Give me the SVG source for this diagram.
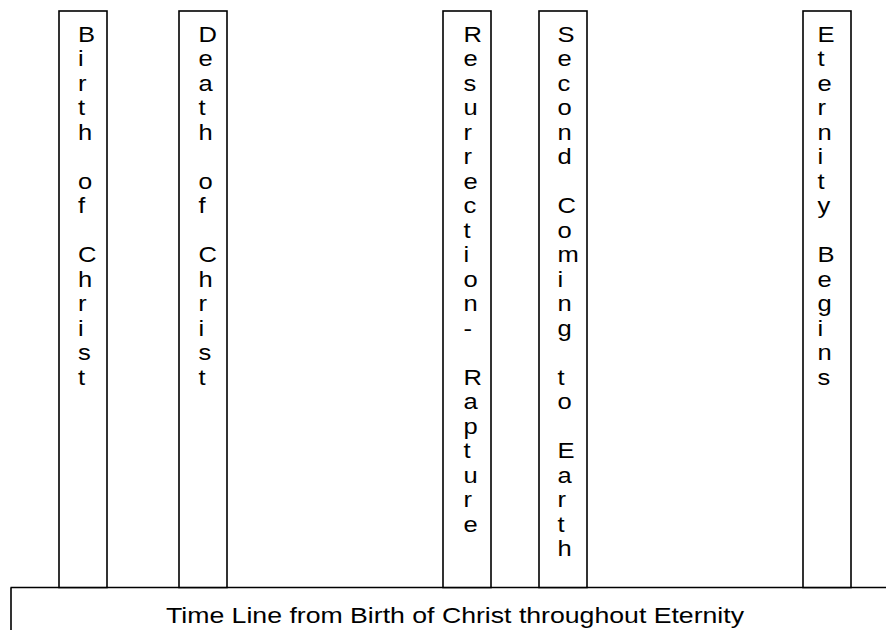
<svg xmlns="http://www.w3.org/2000/svg" width="886" height="630" viewBox="0 0 886 630">
<style>
.box{fill:#fff;stroke:#000;stroke-width:1.6}
.ln{stroke:#000;stroke-width:1.6;fill:none}
.v{font-family:"Liberation Sans",Arial,sans-serif;font-size:21.3px;fill:#000}
.t{font-family:"Liberation Sans",Arial,sans-serif;font-size:22.4px;fill:#000}
</style>
<rect width="886" height="630" fill="#fff"/>
<g id="connectors">
<path class="ln" d="M10.5 587.5H886M11 587.5V630"/>
</g>
<g id="birth">
<rect class="box" x="59" y="11" width="48" height="576.5"/>
<text class="v" transform="translate(78,42) scale(1.2,1)"><tspan x="0" y="0">B</tspan><tspan x="0" dy="24.5">i</tspan><tspan x="0" dy="24.5">r</tspan><tspan x="0" dy="24.5">t</tspan><tspan x="0" dy="24.5">h</tspan><tspan x="0" dy="49">o</tspan><tspan x="0" dy="24.5">f</tspan><tspan x="0" dy="49">C</tspan><tspan x="0" dy="24.5">h</tspan><tspan x="0" dy="24.5">r</tspan><tspan x="0" dy="24.5">i</tspan><tspan x="0" dy="24.5">s</tspan><tspan x="0" dy="24.5">t</tspan></text>
</g>
<g id="death">
<rect class="box" x="179" y="11" width="48" height="576.5"/>
<text class="v" transform="translate(198.5,42) scale(1.2,1)"><tspan x="0" y="0">D</tspan><tspan x="0" dy="24.5">e</tspan><tspan x="0" dy="24.5">a</tspan><tspan x="0" dy="24.5">t</tspan><tspan x="0" dy="24.5">h</tspan><tspan x="0" dy="49">o</tspan><tspan x="0" dy="24.5">f</tspan><tspan x="0" dy="49">C</tspan><tspan x="0" dy="24.5">h</tspan><tspan x="0" dy="24.5">r</tspan><tspan x="0" dy="24.5">i</tspan><tspan x="0" dy="24.5">s</tspan><tspan x="0" dy="24.5">t</tspan></text>
</g>
<g id="resurrection">
<rect class="box" x="443" y="11" width="48" height="576.5"/>
<text class="v" transform="translate(463.5,42) scale(1.2,1)"><tspan x="0" y="0">R</tspan><tspan x="0" dy="24.5">e</tspan><tspan x="0" dy="24.5">s</tspan><tspan x="0" dy="24.5">u</tspan><tspan x="0" dy="24.5">r</tspan><tspan x="0" dy="24.5">r</tspan><tspan x="0" dy="24.5">e</tspan><tspan x="0" dy="24.5">c</tspan><tspan x="0" dy="24.5">t</tspan><tspan x="0" dy="24.5">i</tspan><tspan x="0" dy="24.5">o</tspan><tspan x="0" dy="24.5">n</tspan><tspan x="0" dy="24.5">-</tspan><tspan x="0" dy="49">R</tspan><tspan x="0" dy="24.5">a</tspan><tspan x="0" dy="24.5">p</tspan><tspan x="0" dy="24.5">t</tspan><tspan x="0" dy="24.5">u</tspan><tspan x="0" dy="24.5">r</tspan><tspan x="0" dy="24.5">e</tspan></text>
</g>
<g id="second-coming">
<rect class="box" x="539" y="11" width="48" height="576.5"/>
<text class="v" transform="translate(557.5,42) scale(1.2,1)"><tspan x="0" y="0">S</tspan><tspan x="0" dy="24.5">e</tspan><tspan x="0" dy="24.5">c</tspan><tspan x="0" dy="24.5">o</tspan><tspan x="0" dy="24.5">n</tspan><tspan x="0" dy="24.5">d</tspan><tspan x="0" dy="49">C</tspan><tspan x="0" dy="24.5">o</tspan><tspan x="0" dy="24.5">m</tspan><tspan x="0" dy="24.5">i</tspan><tspan x="0" dy="24.5">n</tspan><tspan x="0" dy="24.5">g</tspan><tspan x="0" dy="49">t</tspan><tspan x="0" dy="24.5">o</tspan><tspan x="0" dy="49">E</tspan><tspan x="0" dy="24.5">a</tspan><tspan x="0" dy="24.5">r</tspan><tspan x="0" dy="24.5">t</tspan><tspan x="0" dy="24.5">h</tspan></text>
</g>
<g id="eternity">
<rect class="box" x="803" y="11" width="48" height="576.5"/>
<text class="v" transform="translate(817.5,42) scale(1.2,1)"><tspan x="0" y="0">E</tspan><tspan x="0" dy="24.5">t</tspan><tspan x="0" dy="24.5">e</tspan><tspan x="0" dy="24.5">r</tspan><tspan x="0" dy="24.5">n</tspan><tspan x="0" dy="24.5">i</tspan><tspan x="0" dy="24.5">t</tspan><tspan x="0" dy="24.5">y</tspan><tspan x="0" dy="49">B</tspan><tspan x="0" dy="24.5">e</tspan><tspan x="0" dy="24.5">g</tspan><tspan x="0" dy="24.5">i</tspan><tspan x="0" dy="24.5">n</tspan><tspan x="0" dy="24.5">s</tspan></text>
</g>
<g id="timeline-label">
<text class="t" transform="translate(166,623) scale(1.19,1)">Time Line from Birth of Christ throughout Eternity</text>
</g>
</svg>
